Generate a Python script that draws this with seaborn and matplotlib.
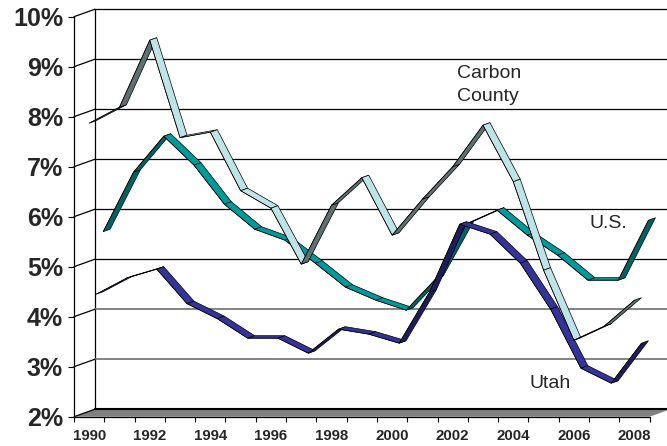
import matplotlib
matplotlib.use("Agg")
import matplotlib.pyplot as plt
import seaborn as sns
import numpy as np
import pandas as pd

years = list(range(1990, 2009))
carbon = [7.87, 8.19, 9.53, 7.58, 7.69, 6.52, 6.17, 5.05, 6.23, 6.78, 5.63, 6.35, 7.00, 7.83, 6.70, 4.93, 3.53, 3.81, 4.33]
utah = [4.40, 4.72, 4.90, 4.21, 3.91, 3.52, 3.52, 3.22, 3.70, 3.60, 3.42, 4.44, 5.80, 5.60, 5.02, 4.10, 2.92, 2.62, 3.42]
us = [5.60, 6.79, 7.51, 6.93, 6.15, 5.65, 5.43, 4.97, 4.49, 4.23, 4.03, 4.67, 5.76, 6.03, 5.53, 5.13, 4.63, 4.63, 5.83]
year_labels = [str(y) for y in years[::2]]
pct_ticks = list(range(2, 11))

sns.set_style("white")
plt.rcParams["font.family"] = ["Liberation Sans", "DejaVu Sans"]

fig = plt.figure(figsize=(6.67, 4.46), dpi=100)
ax = fig.add_axes([74 / 667, (446 - 416.7) / 446, 575.6 / 667, 400 / 446])
ax.set_xlim(-0.5, 18.5)
ax.set_ylim(2, 10)

# pixels per data unit, and the fake 3-D depth
px_x = 575.6 / 19
px_y = 50
wall_dx = 21 / px_x
wall_dy = 7.5 / px_y
row_dx = wall_dx / 3
row_dy = wall_dy / 3
xw = -0.5 + wall_dx
x_end = 18.5 + wall_dx + 0.5

# floor
ax.fill([-0.5, 18.5, 18.5 + wall_dx, xw], [2, 2, 2 + wall_dy, 2 + wall_dy],
        color="#808080", lw=0, zorder=1, clip_on=False)
ax.plot([xw, x_end], [2 + wall_dy] * 2, color="black", lw=1.5, zorder=2, clip_on=False)

# back wall + gridlines
ax.plot([xw, xw], [2 + wall_dy, 10 + wall_dy], color="black", lw=0.9, zorder=2, clip_on=False)
for p in pct_ticks:
    if p > 2:
        gcol, glw = ("#7a7a7a", 1.3) if p in (3, 4) else ("black", 0.9)
        ax.plot([xw, x_end], [p + wall_dy] * 2, color=gcol, lw=glw, zorder=2, clip_on=False)
    ax.plot([-0.5, xw], [p, p + wall_dy], color="black", lw=0.9, zorder=2, clip_on=False)

series = [
    ("U.S.", us, 2, "#009a9a", "#006262"),
    ("Utah", utah, 1, "#333399", "#1c1c5e"),
    ("Carbon County", carbon, 0, "#bfe4e8", "#5f7070"),
]

z = 3
for name, vals, row, light, dark in series:
    vals = np.array(vals)
    x = np.arange(len(vals)) + row * row_dx
    y = vals + row * row_dy
    for i in range(len(vals) - 1):
        dv = vals[i + 1] - vals[i]
        cross = px_x * row_dy * px_y - dv * px_y * row_dx * px_x
        col = light if cross > 0 else dark
        ax.fill([x[i], x[i + 1], x[i + 1] + row_dx, x[i] + row_dx],
                [y[i], y[i + 1], y[i + 1] + row_dy, y[i] + row_dy],
                facecolor=col, edgecolor="black", lw=0.5, zorder=z, clip_on=False)
    df = pd.DataFrame({"x": x, "y": y})
    sns.lineplot(data=df, x="x", y="y", color="black", lw=0.4, ax=ax, zorder=z + 0.5)
    z += 1

ax.set_xlabel("")
ax.set_ylabel("")
ax.set_xlim(-0.5, 18.5)
ax.set_ylim(2, 10)

ax.set_yticks(pct_ticks)
ax.set_yticklabels([f"{p}%" for p in pct_ticks], fontsize=18, fontweight="bold")
ax.tick_params(axis="y", which="major", left=True, length=4.3, width=0.8, pad=3.6, color="black")
ax.set_xticks(range(0, 19, 2))
ax.set_xticklabels(year_labels, fontsize=10.8, fontweight="bold")
ax.set_xticks(np.arange(-0.5, 19, 1), minor=True)
ax.tick_params(axis="x", which="major", length=0, pad=9)
ax.tick_params(axis="x", which="minor", bottom=True, length=3.6, width=0.8, color="black")

for s in ["top", "right"]:
    ax.spines[s].set_visible(False)
for s in ["left", "bottom"]:
    ax.spines[s].set_color("black")
    ax.spines[s].set_linewidth(0.9)
    ax.spines[s].set_zorder(2)
ax.patch.set_alpha(0)

ax.text(12.14, 8.77, "Carbon", fontsize=14, va="baseline", ha="left")
ax.text(12.14, 8.31, "County", fontsize=14, va="baseline", ha="left")
ax.text(16.53, 5.77, "U.S.", fontsize=14, va="baseline", ha="left")
ax.text(14.55, 2.57, "Utah", fontsize=14, va="baseline", ha="left")

fig.savefig("out.png", dpi=100)
